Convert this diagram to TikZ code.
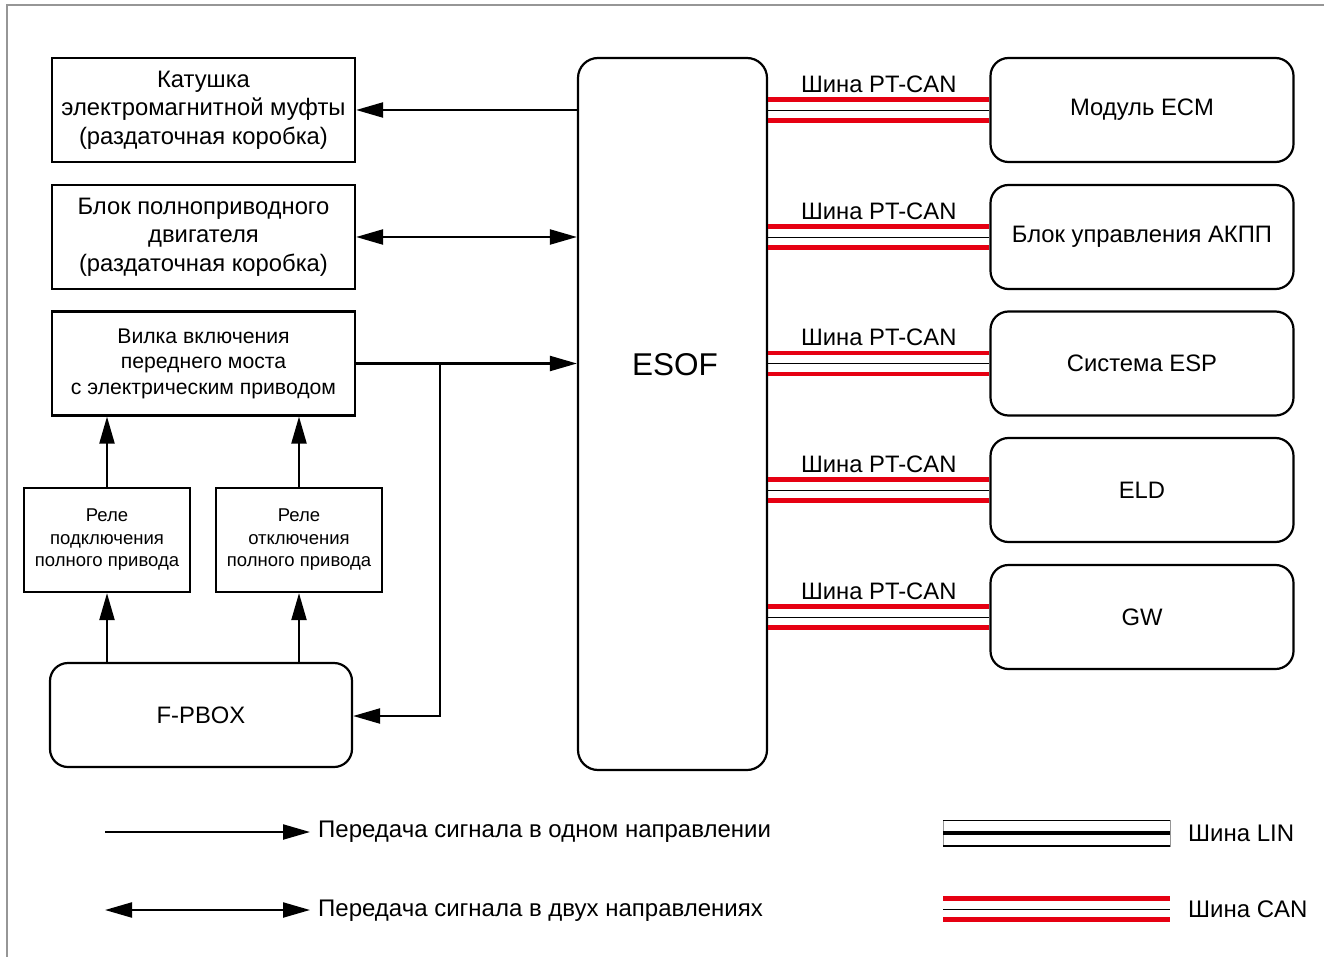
\documentclass[tikz,border=0pt]{standalone}
\usepackage{fontspec}
\setmainfont{Liberation Sans}
\usetikzlibrary{arrows.meta}
\definecolor{canred}{RGB}{230,0,18}
\definecolor{framegray}{RGB}{150,150,150}
\begin{document}
\begin{tikzpicture}[x=1pt,y=-1pt,
  box/.style={draw,line width=2.2pt,minimum width=303pt,minimum height=104pt,
    align=center,inner sep=0pt,font=\fontsize{23.8}{28.5}\selectfont},
  rbox/.style={box,rounded corners=18pt},
  relay/.style={draw,line width=2.2pt,minimum width=166pt,minimum height=104pt,
    align=center,inner sep=0pt,font=\fontsize{18.5}{22.5}\selectfont},
  sig/.style={line width=2.2pt,-{Triangle[length=27pt,width=15pt]}},
  sigboth/.style={line width=2.2pt,{Triangle[length=27pt,width=15pt]}-{Triangle[length=27pt,width=15pt]}},
  redline/.style={canred,line width=4.5pt},
  thinline/.style={black,line width=0.9pt},
  buslabel/.style={font=\fontsize{23.8}{28}\selectfont,inner sep=0pt},
  legendtext/.style={anchor=west,inner sep=0pt,font=\fontsize{24}{28}\selectfont}]
\useasboundingbox (0,0) rectangle (1324,957);
% outer frame (top and left edges)
\draw[framegray,line width=2pt] (7,957) -- (7,5) -- (1324,5);

% left column
\node[box] (coil) at (203.5,110) {Катушка\\электромагнитной муфты\\(раздаточная коробка)};
\node[box] (motor) at (203.5,237) {Блок полноприводного\\двигателя\\(раздаточная коробка)};
\node[box,font=\fontsize{21.2}{25.5}\selectfont] (fork) at (203.5,363.5) {Вилка включения\\переднего моста\\с электрическим приводом};
\node[relay] (relayon) at (107,540) {Реле\\подключения\\полного привода};
\node[relay] (relayoff) at (299,540) {Реле\\отключения\\полного привода};
\node[rbox,minimum width=302pt] (fpbox) at (201,715) {F-PBOX};

% central unit
\node[draw,line width=2.2pt,rounded corners=20pt,minimum width=189pt,minimum height=712pt,
  inner sep=0pt] (esof) at (672.5,414) {};
\node[font=\fontsize{31.5}{36}\selectfont,inner sep=0pt] (esoflabel) at (675,365) {ESOF};

% right column
\node[rbox] (ecm) at (1142,110) {Модуль ECM};
\node[rbox] (tcu) at (1142,237) {Блок управления АКПП};
\node[rbox] (esp) at (1142,363.5) {Система ESP};
\node[rbox] (eld) at (1142,490) {ELD};
\node[rbox] (gw) at (1142,617) {GW};

% signal connections
\draw[sig] (esof.west |- coil.east) -- (coil.east);
\draw[sigboth] (motor.east) -- (esof.west |- motor.east);
\draw[sig] (fork.east) -- (esof.west |- fork.east);
\coordinate (branch) at (440,363.5);
\coordinate (branchlow) at (440,716);
\draw[sig] (branch) -- (branchlow) -- (fpbox.east |- branchlow);
\draw[sig] (relayon.north) -- (relayon.north |- fork.south);
\draw[sig] (relayoff.north) -- (relayoff.north |- fork.south);
\draw[sig] (fpbox.north -| relayon.south) -- (relayon.south);
\draw[sig] (fpbox.north -| relayoff.south) -- (relayoff.south);

% CAN buses
\foreach \n in {ecm,tcu,esp,eld,gw}{
  \draw[redline] ([yshift=10.5pt]esof.east |- \n.west) -- ([yshift=10.5pt]\n.west);
  \draw[thinline] (esof.east |- \n.west) -- (\n.west);
  \draw[redline] ([yshift=-10.5pt]esof.east |- \n.west) -- ([yshift=-10.5pt]\n.west);
  \path (esof.east |- \n.west) -- (\n.west)
    node[midway,yshift=26pt,buslabel] {Шина PT-CAN};
}

% legend
\coordinate (l1a) at (105,832); \coordinate (l1b) at (310,832);
\coordinate (l2a) at (105,910); \coordinate (l2b) at (310,910);
\draw[sig] (l1a) -- (l1b);
\draw[sigboth] (l2a) -- (l2b);
\node[legendtext] (t1) at (318,832) {Передача сигнала в одном направлении};
\node[legendtext] (t2) at (318,911) {Передача сигнала в двух направлениях};

\coordinate (lin1) at (943,833); \coordinate (lin2) at (1170,833);
\draw[framegray,line width=0.6pt] (943,820.5) rectangle (1170,846);
\draw[black,line width=1.2pt] (943,820.5) -- (1170,820.5);
\draw[black,line width=1.2pt] (943,846) -- (1170,846);
\draw[black,line width=4.5pt] (lin1) -- (lin2);
\node[legendtext] (tlin) at (1188,833) {Шина LIN};

\coordinate (can1) at (943,909.3); \coordinate (can2) at (1170,909.3);
\draw[redline] (943,898.5) -- (1170,898.5);
\draw[thinline] (can1) -- (can2);
\draw[redline] (943,919.5) -- (1170,919.5);
\node[legendtext] (tcan) at (1188,909) {Шина CAN};
\end{tikzpicture}
\end{document}
